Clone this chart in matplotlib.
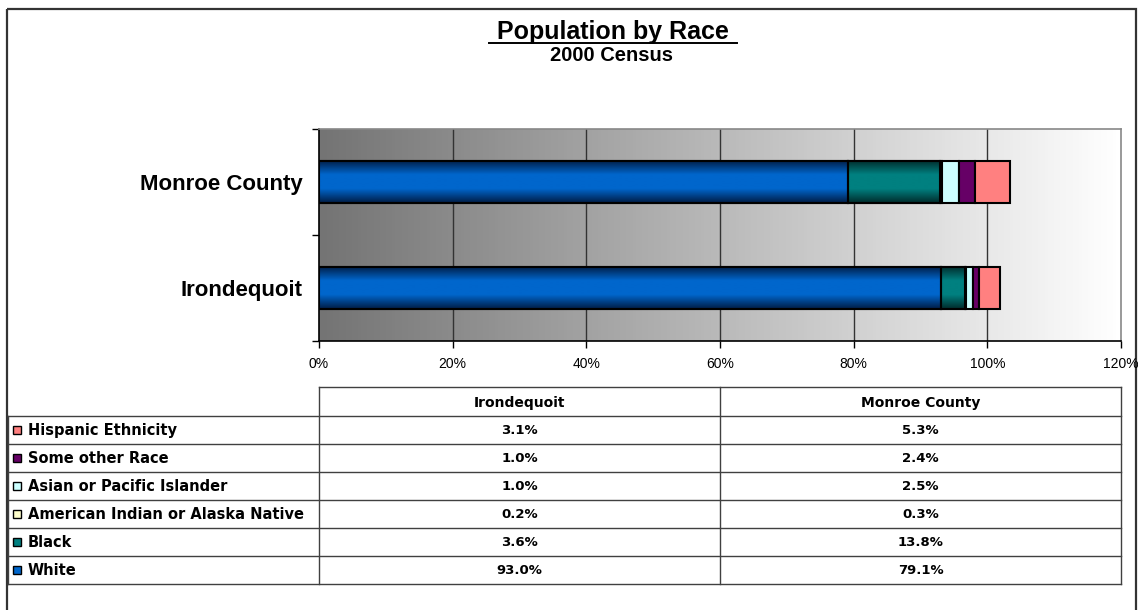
import numpy as np
import matplotlib
matplotlib.use("Agg")
import matplotlib.pyplot as plt
from matplotlib.colors import LinearSegmentedColormap
from matplotlib.patches import Rectangle

plt.rcParams['font.family'] = ['Liberation Sans', 'DejaVu Sans']

# ---------------- data ----------------
places = ["Irondequoit", "Monroe County"]
races = ["White", "Black", "American Indian or Alaska Native",
         "Asian or Pacific Islander", "Some other Race", "Hispanic Ethnicity"]
irondequoit = [93.0, 3.6, 0.2, 1.0, 1.0, 3.1]
monroe = [79.1, 13.8, 0.3, 2.5, 2.4, 5.3]
colors = ["#0066CC", "#008080", "#FFFFCC", "#CCFFFF", "#660066", "#FF8080"]
dark_colors = ["#001c44", "#002a2a", None, None, None, None]
x_ticks = [0, 20, 40, 60, 80, 100, 120]
x_tick_labels = ["0%", "20%", "40%", "60%", "80%", "100%", "120%"]
title = "Population by Race"
subtitle = "2000 Census"

W, H = 1138, 610
fig = plt.figure(figsize=(W / 100, H / 100), dpi=100)

# full-figure overlay axes in pixel coordinates (border + table)
tax = fig.add_axes([0, 0, 1, 1], zorder=1)
tax.set_xlim(0, W)
tax.set_ylim(H, 0)
tax.axis("off")
tax.patch.set_alpha(0)

# outer border
tax.add_patch(Rectangle((7, 9), 1129, 640, fill=False, edgecolor="#333333",
                        linewidth=1.6, clip_on=False))

# titles
tax.text(613, 39, title, ha="center", va="baseline", fontsize=18,
         fontweight="bold")
tax.plot([489, 737], [42.5, 42.5], color="black", linewidth=1.4)
tax.text(612, 61, subtitle, ha="center", va="baseline", fontsize=14.5,
         fontweight="bold")

# ---------------- chart axes ----------------
L, R, T, B = 319, 1121, 129, 341
ax = fig.add_axes([L / W, 1 - B / H, (R - L) / W, (B - T) / H], zorder=2)
ax.set_xlim(0, 120)
ax.set_ylim(-0.5, 1.5)

# horizontal gradient background
bg = np.linspace(0, 1, 256).reshape(1, -1)
bg_cmap = LinearSegmentedColormap.from_list("bg", ["#747474", "#ffffff"])
ax.imshow(bg, extent=[0, 120, -0.5, 1.5], aspect="auto", cmap=bg_cmap,
          zorder=0, interpolation="bilinear")

for xt in x_ticks[1:-1]:
    ax.axvline(xt, color="#333333", linewidth=1.0, zorder=1)

ypos = np.arange(len(places))
data = np.array([irondequoit, monroe])
left = np.zeros(len(places))
bar_h = 0.4
for i, race in enumerate(races):
    vals = data[:, i]
    bars = ax.barh(ypos, vals, left=left, height=bar_h, color=colors[i],
                   edgecolor="black", linewidth=1.5, zorder=3)
    if dark_colors[i] is not None:
        cm = LinearSegmentedColormap.from_list(
            "g%d" % i, [dark_colors[i], colors[i], colors[i], dark_colors[i]])
        grad = np.linspace(0, 1, 128).reshape(-1, 1)
        for b in bars:
            im = ax.imshow(grad, extent=[0, 120, b.get_y(), b.get_y() + bar_h],
                           aspect="auto", cmap=cm, zorder=3.5,
                           interpolation="bilinear")
            im.set_clip_path(b)
            edge = Rectangle((b.get_x(), b.get_y()), b.get_width(), bar_h,
                             fill=False, edgecolor="black", linewidth=1.5,
                             zorder=4)
            ax.add_patch(edge)
    left = left + vals

# axes styling
for side in ["top", "right"]:
    ax.spines[side].set_color("#888888")
    ax.spines[side].set_linewidth(1.2)
for side in ["left", "bottom"]:
    ax.spines[side].set_color("black")
    ax.spines[side].set_linewidth(1.2)

ax.set_xticks(x_ticks)
ax.set_xticklabels(x_tick_labels, fontsize=10)
ax.tick_params(axis="x", direction="out", length=5, width=1, pad=6.5)
ax.set_yticks([-0.5, 0.5, 1.5])
ax.set_yticklabels([])
ax.tick_params(axis="y", which="major", direction="out", length=5, width=1)
ax.set_yticks(ypos, minor=True)
ax.set_yticklabels(places, minor=True, fontsize=16, fontweight="bold")
ax.tick_params(axis="y", which="minor", length=0, pad=12)

# ---------------- data table ----------------
tfont = ['DejaVu Sans']
col_x = [8, 319, 720, 1121]
head_top, head_bot = 387, 416
row_h = 28
n = len(races)
line_c = "#404040"
tax.plot([col_x[1], col_x[3]], [head_top, head_top], color=line_c, lw=1.0)
for k in range(n + 1):
    y = head_bot + k * row_h
    tax.plot([col_x[0], col_x[3]], [y, y], color=line_c, lw=1.0)
tax.plot([col_x[0], col_x[0]], [head_bot, head_bot + n * row_h], color=line_c, lw=1.0)
for cx in col_x[1:]:
    tax.plot([cx, cx], [head_top, head_bot + n * row_h], color=line_c, lw=1.0)

for j, p in enumerate(places):
    tax.text((col_x[j + 1] + col_x[j + 2]) / 2, (head_top + head_bot) / 2 + 1,
             p, ha="center", va="center", fontsize=10, fontweight="bold",
             family=tfont)

for r, i in enumerate(range(n - 1, -1, -1)):
    yc = head_bot + r * row_h + row_h / 2
    tax.add_patch(Rectangle((13.5, yc - 4), 8, 8, facecolor=colors[i],
                            edgecolor="black", linewidth=1.0))
    tax.text(28, yc + 0.5, races[i], ha="left", va="center", fontsize=10.5,
             fontweight="bold", family=tfont)
    for j in range(len(places)):
        tax.text((col_x[j + 1] + col_x[j + 2]) / 2, yc + 0.5,
                 "%.1f%%" % data[j, i], ha="center", va="center",
                 fontsize=9.5, fontweight="bold", family=tfont)

fig.savefig("out.png", dpi=100)
